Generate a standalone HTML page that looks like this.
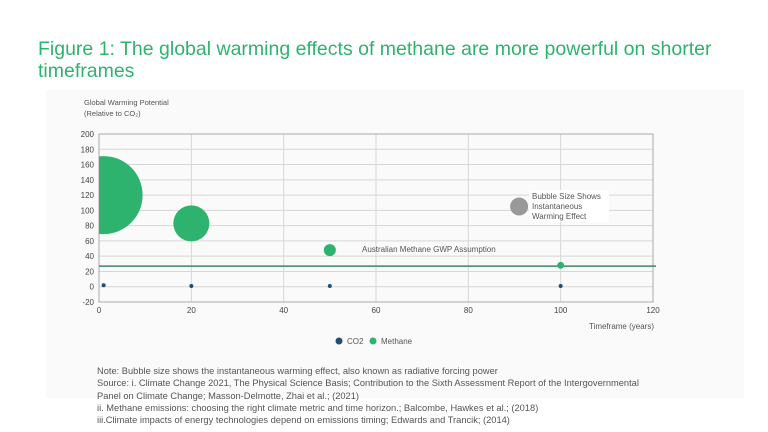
<!DOCTYPE html>
<html><head><meta charset="utf-8"><style>
body{margin:0;width:768px;height:432px;background:#fff;font-family:"Liberation Sans","DejaVu Sans",sans-serif;overflow:hidden;position:relative}
.title{position:absolute;left:38px;top:38px;font-size:19.5px;line-height:22px;color:#2eb36f;width:720px}
.panel{position:absolute;left:46px;top:90px;width:698px;height:308px;background:#fafafa}
.notes{position:absolute;left:97px;top:365px;font-size:9.3px;line-height:12.3px;color:#555}
svg{position:absolute;left:0;top:0}
</style></head><body>
<div class="panel"></div>
<div class="title">Figure 1: The global warming effects of methane are more powerful on shorter timeframes</div>
<svg id="chart" width="768" height="432"><defs><clipPath id="pc"><rect x="99" y="134" width="554" height="168"/></clipPath></defs></svg>
<div class="notes">Note: Bubble size shows the instantaneous warming effect, also known as radiative forcing power<br>Source: i. Climate Change 2021, The Physical Science Basis; Contribution to the Sixth Assessment Report of the Intergovernmental<br>Panel on Climate Change; Masson-Delmotte, Zhai et al.; (2021)<br>ii. Methane emissions: choosing the right climate metric and time horizon.; Balcombe, Hawkes et al.; (2018)<br>iii.Climate impacts of energy technologies depend on emissions timing; Edwards and Trancik; (2014)</div>
<script>
const timeframes=[1,20,50,100];
const methaneGWP=[120,83,48,28];
const methaneSize=[1521,324,36,12];
const co2GWP=[2,1,1,1];
const co2Size=[4,4,4,4];
const xTicks=[0,20,40,60,80,100,120];
const yTicks=[-20,0,20,40,60,80,100,120,140,160,180,200];
const ausAssumption=27;
const legendBubble=[91,105,81];
const NS='http://www.w3.org/2000/svg';
const svg=document.getElementById('chart');
const X0=99,X1=653,Y0=302,Y1=134;
const sx=v=>X0+(v-0)/(120-0)*(X1-X0);
const sy=v=>Y0-(v+20)/(220)*(Y0-Y1);
function mk(t,a,txt){const e=document.createElementNS(NS,t);for(const k in a)e.setAttribute(k,a[k]);if(txt!==undefined)e.textContent=txt;svg.appendChild(e);return e;}
yTicks.forEach(v=>{
 const g=mk('line',{x1:X0,x2:X1,y1:sy(v),y2:sy(v),stroke:'#d6d6d6','stroke-width':1});
 
 
 const t=mk('text',{x:X0-5,y:sy(v)+3,'text-anchor':'end','font-size':8,fill:'#444'},v);
 
 
});
xTicks.forEach(v=>{
 const g=mk('line',{x1:sx(v),x2:sx(v),y1:Y1,y2:Y0,stroke:'#d6d6d6','stroke-width':1});
 
 
 const t=mk('text',{x:sx(v),y:Y0+11,'text-anchor':'middle','font-size':8,fill:'#444'},v);
 
 
});
const fr=mk('rect',{x:X0,y:Y1,width:X1-X0,height:Y0-Y1,fill:'none',stroke:'#aaa','stroke-width':1});


const al=mk('line',{x1:X0,x2:X1+3,y1:sy(ausAssumption),y2:sy(ausAssumption),stroke:'#3a8a66','stroke-width':1.5});


timeframes.forEach((t,i)=>{
 const c=mk('circle',{cx:sx(t),cy:sy(methaneGWP[i]),r:Math.sqrt(methaneSize[i]),fill:'#2eb36f','clip-path':'url(#pc)'});
 
 
});
timeframes.forEach((t,i)=>{
 const c=mk('circle',{cx:sx(t),cy:sy(co2GWP[i]),r:Math.sqrt(co2Size[i]),fill:'#234e70'});
 
 
});
const lb=mk('circle',{cx:sx(legendBubble[0]),cy:sy(legendBubble[1]),r:Math.sqrt(legendBubble[2]),fill:'#999'});


const bx=mk('rect',{x:529,y:190,width:80,height:32,fill:'#fff'});


['Bubble Size Shows','Instantaneous','Warming Effect'].forEach((s,i)=>{
 const t=mk('text',{x:532,y:199+i*10,'font-size':8,fill:'#555'},s);
 
 
});
const at=mk('text',{x:362,y:252,'font-size':8,fill:'#555'},'Australian Methane GWP Assumption');


const y1t=mk('text',{x:84,y:105,'font-size':7.5,fill:'#555'},'Global Warming Potential');


const y2t=mk('text',{x:84,y:116,'font-size':7.5,fill:'#555'},'(Relative to CO₂)');


const xt=mk('text',{x:654,y:329,'text-anchor':'end','font-size':8,fill:'#555'},'Timeframe (years)');


const l1=mk('circle',{cx:339,cy:341,r:3.5,fill:'#234e70'});


const l1t=mk('text',{x:347,y:344,'font-size':8,fill:'#555'},'CO2');


const l2=mk('circle',{cx:373,cy:341,r:3.5,fill:'#2eb36f'});


const l2t=mk('text',{x:381,y:344,'font-size':8,fill:'#555'},'Methane');


</script>
</body></html>
